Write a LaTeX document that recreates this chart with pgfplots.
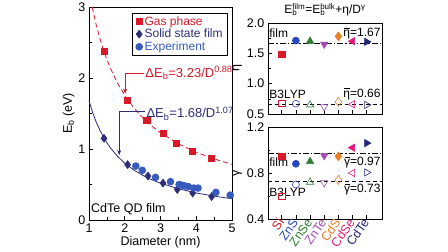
\documentclass[border=0pt]{standalone}
\usepackage{fontspec}
\setmainfont{Liberation Sans}
\usepackage{pgfplots}
\pgfplotsset{compat=1.18}
\usetikzlibrary{arrows.meta}
\definecolor{cSi}{RGB}{215,25,40}
\definecolor{cZnS}{RGB}{40,70,190}
\definecolor{cZnSe}{RGB}{45,125,50}
\definecolor{cZnTe}{RGB}{165,75,185}
\definecolor{cCdS}{RGB}{235,125,35}
\definecolor{cCdSe}{RGB}{225,25,120}
\definecolor{cCdTe}{RGB}{35,35,120}
\definecolor{navy}{RGB}{45,45,120}
\definecolor{expblue}{RGB}{55,90,190}
\newcommand{\fs}[1]{\fontsize{#1}{#1}\selectfont}
\newcommand{\ob}[1]{\setbox0=\hbox{#1}\rlap{\hspace{0.12\wd0}\rule[0.64em]{0.8\wd0}{0.075em}}\box0}
\pgfplotsset{
  every axis/.append style={
    scale only axis, anchor=south west, line width=0.7pt,
    tick align=inside, xtick pos=bottom, ytick pos=left,
    major tick length=4pt, minor tick length=2.5pt,
    tick style={line width=0.6pt, black},
    tick label style={font=\fs{12.5}},
    /pgf/number format/assume math mode=true,
    label style={font=\fs{12.5}},
  },
  catax/.style={
    width=114pt, xmin=0.03, xmax=8.08, xtick={1,...,7},
    yticklabel style={/pgf/number format/.cd, fixed, fixed zerofill, precision=1},
    ylabel style={yshift=-2pt},
  },
  fmk/.style={only marks, mark size=3.5pt, line width=0.6pt},
  omk/.style={only marks, mark size=3.5pt, line width=0.6pt, mark options={fill=white}},
}
\begin{document}
\begin{tikzpicture}
\path[use as bounding box] (0pt,0pt) rectangle (448pt,252pt);

% ---------------- left panel ----------------
\begin{axis}[
  at={(89pt,32pt)}, width=143pt, height=213pt,
  xmin=1, xmax=5, ymin=0, ymax=3,
  xtick={1,2,3,4,5}, ytick={0,1,2,3},
  minor xtick={1.5,2.5,3.5,4.5}, minor ytick={0.5,1.5,2.5},
  xlabel={Diameter (nm)}, ylabel={E\textsubscript{b} (eV)},
  xlabel style={yshift=3pt}, ylabel style={yshift=-3pt},
  clip=false,
  legend style={at={(0.972,0.972)}, anchor=north east, draw=black, line width=0.7pt,
    font=\fs{12}, inner xsep=3pt, inner ysep=1pt, row sep=-1.5pt},
  legend cell align=left,
]
\addplot[only marks, mark=square*, mark size=3.1pt, color=cSi] coordinates {
  (1.42,2.37) (2.08,1.68) (2.62,1.40) (3.07,1.22) (3.45,1.08) (3.90,0.97) (4.42,0.87)};
\addlegendentry{\textcolor{cSi}{Gas phase}}
\addplot[only marks, mark=diamond*, mark size=3.9pt, color=navy] coordinates {
  (1.42,1.15) (2.08,0.78) (2.65,0.62) (3.07,0.52) (3.47,0.43) (3.90,0.38) (4.43,0.33)};
\addlegendentry{\textcolor{navy}{Solid state film}}
\addplot[only marks, mark=*, mark size=3.4pt, color=expblue] coordinates {
  (2.31,0.76) (2.49,0.70) (2.86,0.60) (3.28,0.54) (3.52,0.50) (3.60,0.49)
  (3.68,0.48) (3.78,0.47) (3.93,0.45) (4.05,0.45) (4.55,0.39) (4.95,0.35)};
\addlegendentry{\textcolor{expblue}{Experiment}}
\addplot[cSi, line width=0.8pt, dash pattern=on 5pt off 3pt, forget plot] coordinates {
  (1.088,3.000) (1.2,2.751) (1.3,2.564) (1.4,2.402) (1.5,2.261) (1.6,2.136) (1.8,1.926)
  (2.0,1.755) (2.25,1.582) (2.5,1.442) (2.75,1.326) (3.0,1.228) (3.5,1.073)
  (4.0,0.954) (4.5,0.860) (5.0,0.784)};
\addplot[navy, line width=0.8pt, forget plot] coordinates {
  (1.0,1.680) (1.1,1.517) (1.2,1.382) (1.3,1.269) (1.4,1.172) (1.5,1.089) (1.6,1.016)
  (1.8,0.896) (2.0,0.800) (2.25,0.705) (2.5,0.630) (2.75,0.569) (3.0,0.519)
  (3.5,0.440) (4.0,0.381) (4.5,0.336) (5.0,0.300)};
\draw[cSi, line width=0.6pt, -{Stealth[length=5pt,width=4pt]}] (axis cs:2.55,2.07) -- (axis cs:2.01,2.07) -- (axis cs:2.01,1.78);
\node[cSi, anchor=west, inner sep=0pt, font=\fs{13}] at (axis cs:2.57,2.07) {ΔE\textsubscript{b}=3.23/D\textsuperscript{0.88}};
\draw[navy, line width=0.6pt, -{Stealth[length=5pt,width=4pt]}] (axis cs:2.57,1.53) -- (axis cs:1.845,1.53) -- (axis cs:1.845,0.915);
\node[navy, anchor=west, inner sep=0pt, font=\fs{13}] at (axis cs:2.6,1.50) {ΔE\textsubscript{b}=1.68/D\textsuperscript{1.07}};
\node[anchor=south west, inner sep=0pt, font=\fs{12.5}] at (axis cs:1.05,0.07) {CdTe QD film};
\end{axis}

% ---------------- right top panel ----------------
\begin{axis}[
  catax, at={(268pt,138pt)}, height=91pt,
  ymin=0.5, ymax=2.0, ytick={0.5,1.0,1.5,2.0}, minor ytick={0.75,1.25,1.75},
  xticklabels={},
  ylabel={η},
  title={E\rlap{\textsubscript{b}}\textsuperscript{film}=E\rlap{\textsubscript{b}}\textsuperscript{bulk}+η/D\textsuperscript{γ}},
  title style={font=\fs{12}, yshift=-3pt},
]
\addplot[black, line width=0.7pt, dash pattern=on 6pt off 2pt on 1.5pt off 2pt] coordinates {(0.03,1.67) (8.08,1.67)};
\addplot[black, line width=0.7pt, dash pattern=on 4pt off 3pt] coordinates {(0.03,0.66) (8.08,0.66)};
\addplot[fmk, mark=square*, cSi, mark size=3.1pt] coordinates {(1,1.48)};
\addplot[fmk, mark=*, cZnS] coordinates {(2,1.71)};
\addplot[fmk, mark=triangle*, cZnSe, mark size=4.2pt] coordinates {(3,1.70)};
\addplot[fmk, mark=triangle*, cZnTe, mark size=4.2pt, mark options={rotate=180}] coordinates {(4,1.65)};
\addplot[fmk, mark=diamond*, cCdS, mark size=4.4pt] coordinates {(5,1.78)};
\addplot[fmk, mark=triangle*, cCdSe, mark size=4.2pt, mark options={rotate=90}] coordinates {(6,1.70)};
\addplot[fmk, mark=triangle*, cCdTe, mark size=4.2pt, mark options={rotate=-90}] coordinates {(7,1.69)};
\addplot[omk, mark=square, cSi, mark size=3.1pt] coordinates {(1,0.68)};
\addplot[omk, mark=o, cZnS] coordinates {(2,0.67)};
\addplot[omk, mark=triangle, cZnSe, mark size=4.2pt] coordinates {(3,0.65)};
\addplot[omk, mark=triangle, cZnTe, mark size=4.2pt, mark options={rotate=180,fill=white}] coordinates {(4,0.62)};
\addplot[omk, mark=diamond, cCdS, mark size=4.4pt] coordinates {(5,0.70)};
\addplot[omk, mark=triangle, cCdSe, mark size=4.2pt, mark options={rotate=90,fill=white}] coordinates {(6,0.66)};
\addplot[omk, mark=triangle, cCdTe, mark size=4.2pt, mark options={rotate=-90,fill=white}] coordinates {(7,0.65)};
\node[anchor=west, inner sep=0pt, font=\fs{12}] at (axis cs:0.1,1.83) {film};
\node[anchor=east, inner sep=0pt, font=\fs{12}] at (axis cs:8.0,1.83) {\ob{η}=1.67};
\node[anchor=west, inner sep=0pt, font=\fs{12}] at (axis cs:0.1,0.83) {B3LYP};
\node[anchor=east, inner sep=0pt, font=\fs{12}] at (axis cs:8.0,0.83) {\ob{η}=0.66};
\end{axis}

% ---------------- right bottom panel ----------------
\begin{axis}[
  catax, at={(268pt,33pt)}, height=92pt,
  ymin=0.4, ymax=1.2, ytick={0.4,0.8,1.2}, minor ytick={0.6,1.0},
  xticklabels={\textcolor{cSi}{Si},\textcolor{cZnS}{ZnS},\textcolor{cZnSe}{ZnSe},\textcolor{cZnTe}{ZnTe},\textcolor{cCdS}{CdS},\textcolor{cCdSe}{CdSe},\textcolor{cCdTe}{CdTe}},
  xticklabel style={rotate=55, anchor=east, font=\fs{12.5}, inner sep=1pt},
  ylabel={γ},
]
\addplot[black, line width=0.7pt, dash pattern=on 6pt off 2pt on 1.5pt off 2pt] coordinates {(0.03,0.97) (8.08,0.97)};
\addplot[black, line width=0.7pt, dash pattern=on 4pt off 3pt] coordinates {(0.03,0.73) (8.08,0.73)};
\addplot[fmk, mark=square*, cSi, mark size=3.1pt] coordinates {(1,0.945)};
\addplot[fmk, mark=*, cZnS] coordinates {(2,0.88)};
\addplot[fmk, mark=triangle*, cZnSe, mark size=4.2pt] coordinates {(3,0.90)};
\addplot[fmk, mark=triangle*, cZnTe, mark size=4.2pt, mark options={rotate=180}] coordinates {(4,0.95)};
\addplot[fmk, mark=diamond*, cCdS, mark size=4.4pt] coordinates {(5,0.945)};
\addplot[fmk, mark=triangle*, cCdSe, mark size=4.2pt, mark options={rotate=90}] coordinates {(6,1.02)};
\addplot[fmk, mark=triangle*, cCdTe, mark size=4.2pt, mark options={rotate=-90}] coordinates {(7,1.06)};
\addplot[omk, mark=square, cSi, mark size=3.1pt] coordinates {(1,0.60)};
\addplot[omk, mark=o, cZnS] coordinates {(2,0.70)};
\addplot[omk, mark=triangle, cZnSe, mark size=4.2pt] coordinates {(3,0.72)};
\addplot[omk, mark=triangle, cZnTe, mark size=4.2pt, mark options={rotate=180,fill=white}] coordinates {(4,0.715)};
\addplot[omk, mark=diamond, cCdS, mark size=4.4pt] coordinates {(5,0.74)};
\addplot[omk, mark=triangle, cCdSe, mark size=4.2pt, mark options={rotate=90,fill=white}] coordinates {(6,0.80)};
\addplot[omk, mark=triangle, cCdTe, mark size=4.2pt, mark options={rotate=-90,fill=white}] coordinates {(7,0.805)};
\node[anchor=west, inner sep=0pt, font=\fs{12}] at (axis cs:0.1,0.895) {film};
\node[anchor=east, inner sep=0pt, font=\fs{12}] at (axis cs:8.0,0.89) {\ob{γ}=0.97};
\node[anchor=west, inner sep=0pt, font=\fs{12}] at (axis cs:0.1,0.635) {B3LYP};
\node[anchor=east, inner sep=0pt, font=\fs{12}] at (axis cs:8.0,0.655) {\ob{γ}=0.73};
\end{axis}
\end{tikzpicture}
\end{document}
